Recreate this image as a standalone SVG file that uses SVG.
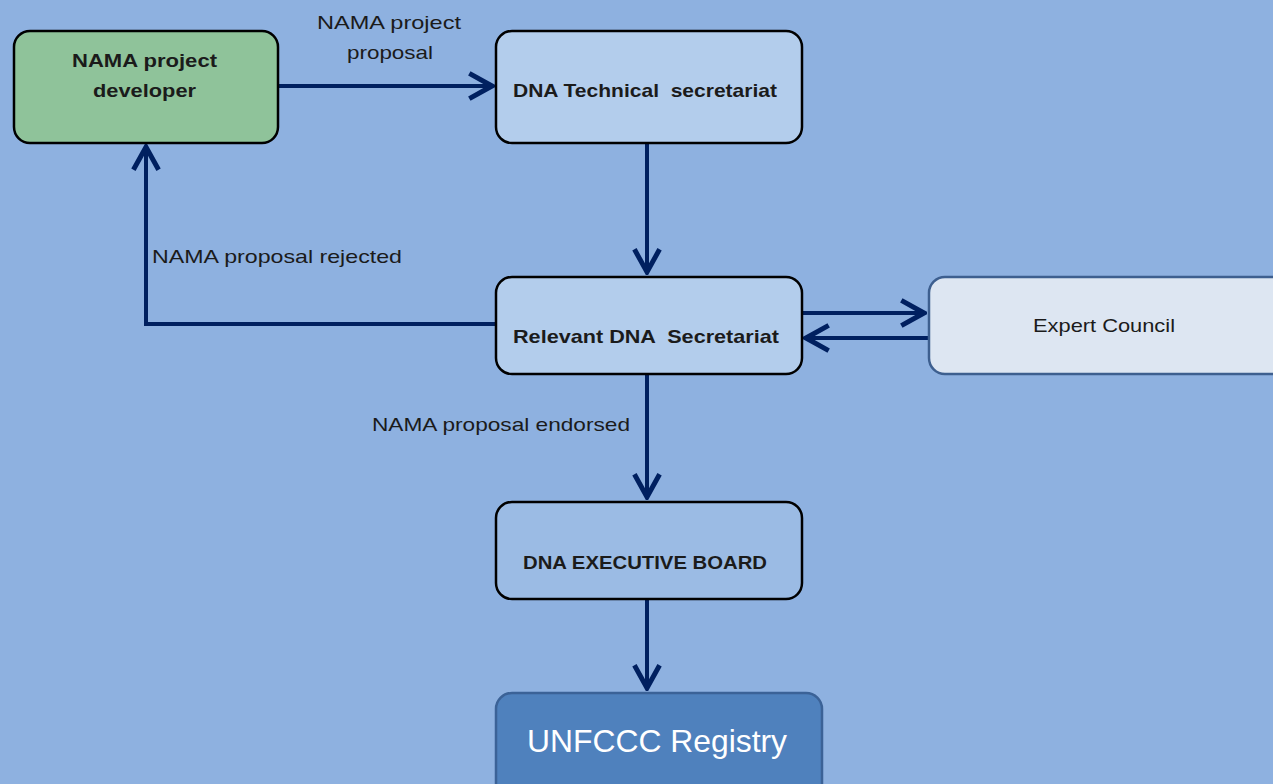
<svg xmlns="http://www.w3.org/2000/svg" width="1273" height="784" viewBox="0 0 1273 784">
  <defs>
    <marker id="chev" viewBox="0 0 12 12" refX="11" refY="6" markerWidth="7.4" markerHeight="7.4" markerUnits="strokeWidth" orient="auto">
      <path d="M1.4,0.9 L10.6,6 L1.4,11.1" fill="none" stroke="#002060" stroke-width="2"/>
    </marker>
    <style>
      .node { stroke: #000; stroke-width: 2.5; }
      .lbl { font-family: "Liberation Sans", Arial, sans-serif; font-size: 19px; fill: #1b1b1b; }
      .b { font-weight: bold; }
      .edge { fill: none; stroke: #002060; stroke-width: 4; marker-end: url(#chev); }
    </style>
  </defs>
  <rect width="1273" height="784" fill="#8EB1E0"/>

  <g id="connectors">
    <path class="edge" d="M278,86 H493"/>
    <path class="edge" d="M647,143 V273"/>
    <path class="edge" d="M496,324 H146 V146"/>
    <path class="edge" d="M802,313 H925"/>
    <path class="edge" d="M929,338 H805"/>
    <path class="edge" d="M647,374 V498"/>
    <path class="edge" d="M647,599 V689"/>
    <text class="lbl" x="317" y="29" textLength="144" lengthAdjust="spacingAndGlyphs">NAMA project</text>
    <text class="lbl" x="347" y="59" textLength="86" lengthAdjust="spacingAndGlyphs">proposal</text>
    <text class="lbl" x="152" y="263" textLength="250" lengthAdjust="spacingAndGlyphs">NAMA proposal rejected</text>
    <text class="lbl" x="372" y="431" textLength="258" lengthAdjust="spacingAndGlyphs">NAMA proposal endorsed</text>
  </g>

  <g id="developer">
    <rect class="node" x="14" y="31" width="264" height="112" rx="16" fill="#8FC39A"/>
    <text class="lbl b" x="72" y="67" textLength="145" lengthAdjust="spacingAndGlyphs">NAMA project</text>
    <text class="lbl b" x="93" y="97" textLength="103" lengthAdjust="spacingAndGlyphs">developer</text>
  </g>

  <g id="technical">
    <rect class="node" x="496" y="31" width="306" height="112" rx="16" fill="#B3CDEC"/>
    <text class="lbl b" x="513" y="97" textLength="264" lengthAdjust="spacingAndGlyphs" xml:space="preserve">DNA Technical  secretariat</text>
  </g>

  <g id="relevant">
    <rect class="node" x="496" y="277" width="306" height="97" rx="16" fill="#B3CDEC"/>
    <text class="lbl b" x="513" y="343" textLength="266" lengthAdjust="spacingAndGlyphs" xml:space="preserve">Relevant DNA  Secretariat</text>
  </g>

  <g id="expert">
    <rect x="929" y="277" width="360" height="97" rx="16" fill="#DDE6F2" stroke="#3D5F8F" stroke-width="2.5"/>
    <text class="lbl" x="1033" y="332" textLength="142" lengthAdjust="spacingAndGlyphs">Expert Council</text>
  </g>

  <g id="board">
    <rect class="node" x="496" y="502" width="306" height="97" rx="16" fill="#9BBBE4"/>
    <text class="lbl b" x="523" y="569" textLength="244" lengthAdjust="spacingAndGlyphs">DNA EXECUTIVE BOARD</text>
  </g>

  <g id="registry">
    <rect x="496" y="693" width="326" height="110" rx="16" fill="#4F81BD" stroke="#3B6297" stroke-width="2.5"/>
    <text x="527" y="752" textLength="260" lengthAdjust="spacingAndGlyphs" font-family="'Liberation Sans', Arial, sans-serif" font-size="32" fill="#FFFFFF">UNFCCC Registry</text>
  </g>
</svg>
